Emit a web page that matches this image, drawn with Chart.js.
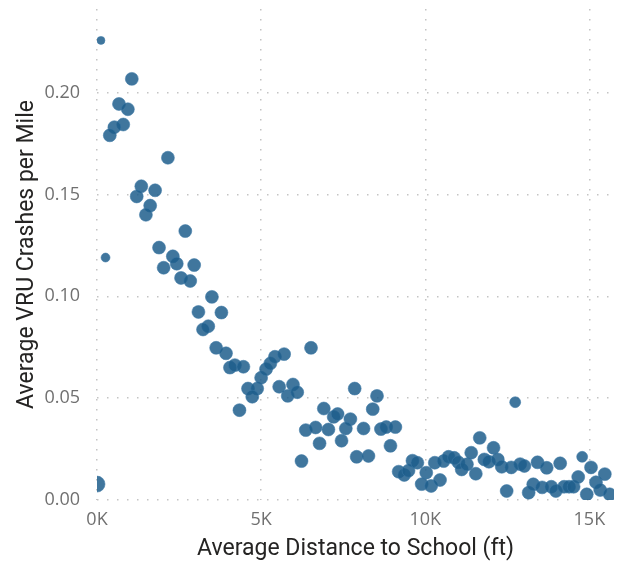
<!DOCTYPE html>
<html>
<head>
<meta charset="utf-8">
<script src="https://cdn.jsdelivr.net/npm/chart.js@4.4.1/dist/chart.umd.min.js"></script>
<style>
html,body{margin:0;padding:0;background:#fff;}
#wrap{width:623px;height:565px;position:relative;}
</style>
</head>
<body>
<div id="wrap"><canvas id="c" width="623" height="565"></canvas></div>
<script>
// Average distance to school (thousands of ft)
const distanceK = [
  0.12,1.06,0.67,0.94,0.80,0.53,0.39,2.16,1.35,1.21,
  1.77,1.62,1.49,2.69,1.89,2.31,0.26,2.43,2.03,2.96,
  2.56,2.84,3.50,3.09,3.79,3.39,3.23,3.63,3.93,4.05,
  4.20,4.46,4.34,4.60,4.88,4.73,5.00,5.15,5.28,5.42,
  5.70,5.55,5.97,5.81,6.10,6.52,6.91,7.21,7.33,7.72,
  7.85,6.36,6.66,7.05,7.58,6.78,7.45,6.23,7.91,0.00,
  8.53,8.40,8.12,8.65,8.81,9.09,8.94,8.27,9.19,9.36,
  9.49,9.61,9.76,10.03,9.89,10.18,10.45,10.29,10.56,10.71,
  10.88,11.01,11.11,11.27,11.40,11.54,11.66,11.80,11.94,12.08,
  12.21,12.33,12.48,12.62,12.74,12.89,13.02,13.15,13.29,13.42,
  13.56,13.70,13.84,13.98,14.11,14.23,14.38,14.52,14.66,14.78,
  14.92,15.05,15.20,15.33,15.47,15.62
];
// Average VRU crashes per mile
const crashesPerMile = [
  0.2256,0.2067,0.1944,0.1918,0.1843,0.1830,0.1790,0.1680,0.1540,0.1490,
  0.1520,0.1445,0.1400,0.1320,0.1239,0.1196,0.1190,0.1160,0.1140,0.1153,
  0.1090,0.1075,0.0997,0.0923,0.0920,0.0853,0.0837,0.0747,0.0720,0.0650,
  0.0662,0.0654,0.0441,0.0547,0.0547,0.0507,0.0600,0.0642,0.0670,0.0703,
  0.0716,0.0556,0.0567,0.0511,0.0529,0.0747,0.0449,0.0408,0.0422,0.0397,
  0.0547,0.0343,0.0356,0.0346,0.0351,0.0278,0.0291,0.0191,0.0212,0.0078,
  0.0511,0.0446,0.0351,0.0348,0.0358,0.0358,0.0266,0.0216,0.0139,0.0123,
  0.0144,0.0193,0.0183,0.0134,0.0078,0.0069,0.0098,0.0183,0.0191,0.0212,
  0.0207,0.0185,0.0150,0.0175,0.0232,0.0129,0.0305,0.0199,0.0188,0.0256,
  0.0199,0.0163,0.0044,0.0160,0.0480,0.0176,0.0167,0.0036,0.0077,0.0185,
  0.0062,0.0158,0.0065,0.0044,0.0180,0.0065,0.0065,0.0065,0.0113,0.0212,
  0.0028,0.0160,0.0087,0.0049,0.0127,0.0028
];
// Bubble weight (relative size measure)
const weights = distanceK.map(() => 42);
const weightOverrides = [[0,16],[16,20],[59,64],[94,30],[109,30]];
weightOverrides.forEach(([i,w]) => { weights[i] = w; });

const xTicks = [0, 5000, 10000, 15000];
const yTicks = [0, 0.05, 0.10, 0.15, 0.20];

const points = distanceK.map((d, i) => ({
  x: d * 1000,
  y: crashesPerMile[i],
  r: Math.sqrt(weights[i])
}));

const tickFont = {family: "'Segoe UI','Open Sans',sans-serif", size: 18};
const titleFont = {family: "'DIN','Roboto','Noto Sans',sans-serif", size: 23};

new Chart(document.getElementById('c'), {
  type: 'bubble',
  data: {
    datasets: [{
      data: points,
      backgroundColor: 'rgba(30,94,140,0.85)',
      borderColor: 'rgba(60,120,165,0.55)',
      borderWidth: 1,
      clip: 0
    }]
  },
  options: {
    responsive: false,
    animation: false,
    events: [],
    layout: {padding: {top: 7, right: 2, left: 0, bottom: 0}},
    plugins: {legend: {display: false}, tooltip: {enabled: false}},
    scales: {
      x: {
        type: 'linear',
        min: 0,
        max: 15750,
        afterBuildTicks: s => { s.ticks = xTicks.map(v => ({value: v})); },
        afterFit: s => { s.height = 65; s.paddingLeft = 0; s.paddingRight = 0; },
        ticks: {
          color: '#707070',
          font: tickFont,
          padding: 9,
          maxRotation: 0,
          callback: v => (v / 1000) + 'K'
        },
        grid: {color: '#c4c4c4', lineWidth: 1.5, drawTicks: false},
        border: {display: false, dash: [1.5, 8.5]},
        title: {
          display: true,
          text: 'Average Distance to School (ft)',
          color: '#252423',
          font: titleFont,
          padding: {top: 0, bottom: 2}
        }
      },
      y: {
        type: 'linear',
        min: 0,
        max: 0.241,
        afterBuildTicks: s => { s.ticks = yTicks.map(v => ({value: v})); },
        afterFit: s => { s.width = 97; s.paddingTop = 0; s.paddingBottom = 0; },
        ticks: {
          color: '#707070',
          font: tickFont,
          padding: 17,
          callback: v => v.toFixed(2)
        },
        grid: {color: '#c4c4c4', lineWidth: 1.5, drawTicks: false},
        border: {display: false, dash: [1.5, 8.5]},
        title: {
          display: true,
          text: 'Average VRU Crashes per Mile',
          color: '#252423',
          font: titleFont,
          padding: {top: 13, bottom: 0}
        }
      }
    }
  }
});
</script>
</body>
</html>
